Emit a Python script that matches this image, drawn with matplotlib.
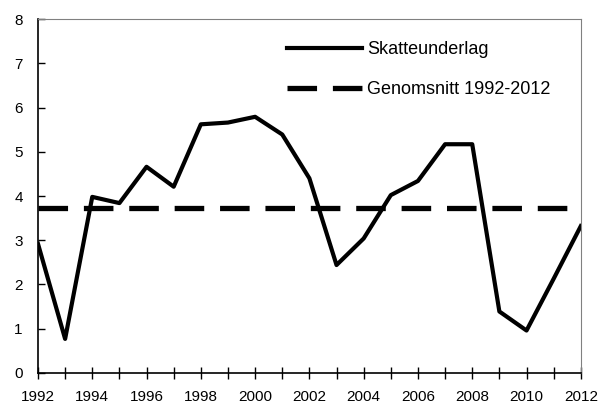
import matplotlib
matplotlib.use('Agg')
import matplotlib.pyplot as plt

plt.rcParams['font.family'] = ['Liberation Sans', 'DejaVu Sans']

years = list(range(1992, 2013))
skatteunderlag = [2.92, 0.77, 3.98, 3.84, 4.66, 4.21, 5.62, 5.66, 5.79, 5.39, 4.40,
                  2.44, 3.04, 4.02, 4.34, 5.17, 5.17, 1.39, 0.96, 2.13, 3.32]
genomsnitt = 3.74

fig = plt.figure(figsize=(6, 4.08), dpi=100)
ax = fig.add_axes([0.0633, 0.0858, 0.9047, 0.8676])

ax.plot(years, skatteunderlag, color='black', linewidth=3.0, label='Skatteunderlag')
ax.plot([years[0], years[-1]], [genomsnitt, genomsnitt], color='black', linewidth=3.8,
        dashes=(5.6, 3.0), label='Genomsnitt 1992-2012')

ax.set_xlim(1992, 2012)
ax.set_ylim(0, 8)
ax.set_xticks(range(1992, 2013, 2))
ax.set_xticks(range(1993, 2012, 2), minor=True)
ax.set_yticks(range(0, 9))

ax.tick_params(axis='x', which='both', direction='inout', length=8, width=1, pad=8,
               labelsize=11, color='black')
ax.tick_params(axis='y', which='major', direction='in', length=5, width=1, pad=11,
               labelsize=11)

ax.spines['left'].set_color('black')
ax.spines['bottom'].set_color('black')
ax.spines['left'].set_linewidth(1.2)
ax.spines['bottom'].set_linewidth(1.2)
ax.spines['top'].set_color('#808080')
ax.spines['right'].set_color('#808080')
ax.spines['top'].set_linewidth(0.8)
ax.spines['right'].set_linewidth(0.8)

ax.legend(loc='upper left', bbox_to_anchor=(0.4586, 0.937), frameon=False, fontsize=13,
          handlelength=4.15, handletextpad=0.28, labelspacing=1.25,
          borderpad=0, borderaxespad=0)

plt.savefig('out.png', dpi=100)
